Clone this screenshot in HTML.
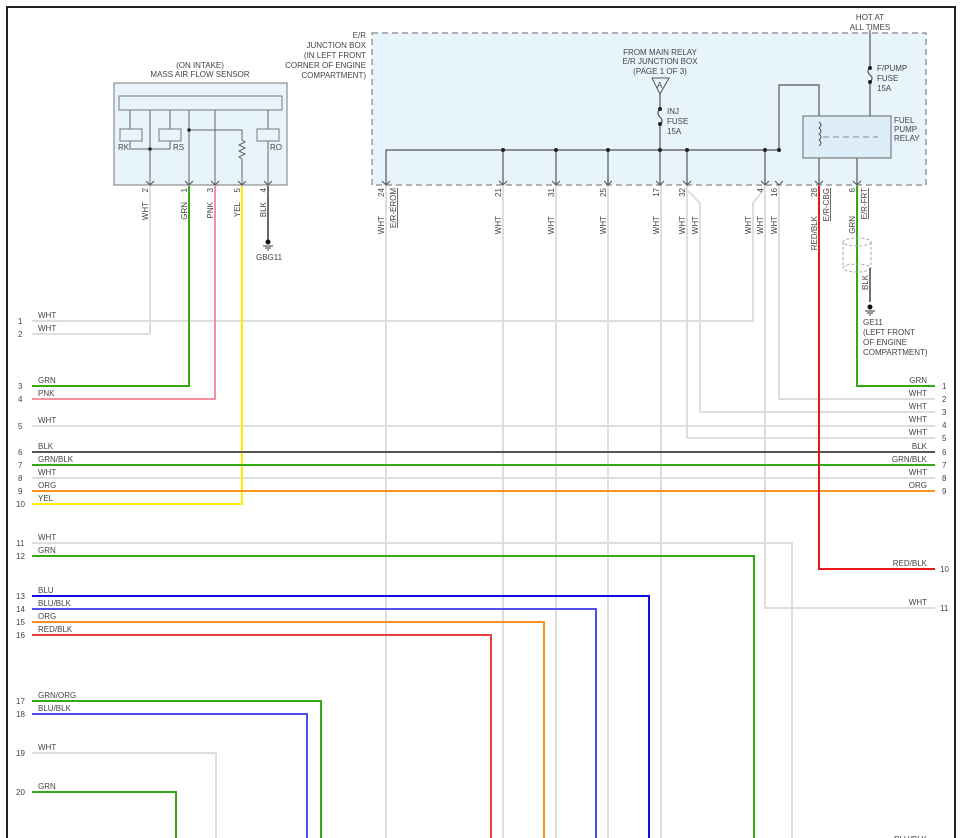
<!DOCTYPE html>
<html><head><meta charset="utf-8"><style>
html,body{margin:0;padding:0;background:#fff;width:962px;height:838px;overflow:hidden}
svg{display:block}
text{font-family:"Liberation Sans",sans-serif;font-size:8px;fill:#444}
</style></head><body>
<svg width="962" height="838" viewBox="0 0 962 838" xmlns="http://www.w3.org/2000/svg">
<!-- border -->
<path d="M7 838 V7 H955 V838" fill="none" stroke="#222" stroke-width="2"/>

<!-- Junction box -->
<rect x="372" y="33" width="554" height="152" fill="#e8f4fc" stroke="#888" stroke-width="1.3" stroke-dasharray="6,4"/>
<g text-anchor="end">
<text x="366" y="38">E/R</text>
<text x="366" y="48">JUNCTION BOX</text>
<text x="366" y="58">(IN LEFT FRONT</text>
<text x="366" y="68">CORNER OF ENGINE</text>
<text x="366" y="78">COMPARTMENT)</text>
</g>
<g text-anchor="middle">
<text x="660" y="55">FROM MAIN RELAY</text>
<text x="660" y="64">E/R JUNCTION BOX</text>
<text x="660" y="74">(PAGE 1 OF 3)</text>
<text x="870" y="20">HOT AT</text>
<text x="870" y="30">ALL TIMES</text>
</g>
<!-- A connector -->
<path d="M652 78 L669 78 L660 94 Z" fill="none" stroke="#555"/>
<text x="657" y="88" font-size="6">A</text>
<g stroke="#555" stroke-width="1.2" fill="none">
<path d="M660 94 V109 M660 124 V185"/>
<path d="M660 109 q-4 4 0 8 q4 4 0 8"/>
<path d="M386 185 V150 H779 V85 H819 V185"/>
<path d="M503 150V185 M556 150V185 M608 150V185 M687 150V185 M765 150V185"/>
<path d="M870 30 V68 M870 82 V125 L886 149"/>
<path d="M870 68 q-4 3 0 7 q4 3 0 7"/>
<path d="M857 148 V185"/>
</g>
<g fill="#222">
<circle cx="660" cy="109" r="2"/><circle cx="660" cy="124" r="2"/>
<circle cx="870" cy="68" r="2"/><circle cx="870" cy="82" r="2"/>
<circle cx="870" cy="125" r="2"/><circle cx="883" cy="148" r="2"/><circle cx="857" cy="148" r="2"/>
<circle cx="503" cy="150" r="2"/><circle cx="556" cy="150" r="2"/><circle cx="608" cy="150" r="2"/>
<circle cx="660" cy="150" r="2"/><circle cx="687" cy="150" r="2"/><circle cx="765" cy="150" r="2"/><circle cx="779" cy="150" r="2"/>
</g>
<text x="667" y="114">INJ</text><text x="667" y="124">FUSE</text><text x="667" y="134">15A</text>
<text x="877" y="71">F/PUMP</text><text x="877" y="81">FUSE</text><text x="877" y="91">15A</text>
<!-- relay -->
<rect x="803" y="116" width="88" height="42" fill="#ddeef8" stroke="#666"/>
<path d="M819 122 q4 3 0 6 q4 3 0 6 q4 3 0 6 q4 3 0 6" fill="none" stroke="#555"/>
<path d="M823 137 H878" stroke="#888" stroke-dasharray="6,4"/>
<text x="894" y="123">FUEL</text><text x="894" y="132">PUMP</text><text x="894" y="141">RELAY</text>

<!-- Sensor -->
<text x="200" y="68" text-anchor="middle">(ON INTAKE)</text>
<text x="200" y="77" text-anchor="middle">MASS AIR FLOW SENSOR</text>
<rect x="114" y="83" width="173" height="102" fill="#e8f4fc" stroke="#777"/>
<rect x="119" y="96" width="163" height="14" fill="#e8f4fc" stroke="#777"/>
<g stroke="#666" fill="none">
<path d="M130 110V129 M150 110V185 M170 110V129 M189 110V185 M215 110V185 M268 110V129 M268 141V185"/>
<path d="M130 141V149 H170 V141"/>
<path d="M189 130 H242 V140 l3 2 -6 3 6 3 -6 3 6 3 -6 3 3 2 V185"/>
</g>
<g fill="#e8f4fc" stroke="#777"><rect x="120" y="129" width="22" height="12"/><rect x="159" y="129" width="22" height="12"/><rect x="257" y="129" width="22" height="12"/></g>
<circle cx="150" cy="149" r="1.8" fill="#222"/><circle cx="189" cy="130" r="1.8" fill="#222"/>
<text x="118" y="150">RK</text><text x="173" y="150">RS</text><text x="270" y="150">RO</text>

<!-- pin arrows -->
<g stroke="#555" fill="none" stroke-width="1">
<path d="M146 181l4 4 4-4 M185 181l4 4 4-4 M211 181l4 4 4-4 M238 181l4 4 4-4 M264 181l4 4 4-4"/>
<path d="M382 181l4 4 4-4 M499 181l4 4 4-4 M552 181l4 4 4-4 M604 181l4 4 4-4 M656 181l4 4 4-4 M683 181l4 4 4-4 M761 181l4 4 4-4 M775 181l4 4 4-4 M815 181l4 4 4-4 M853 181l4 4 4-4"/>
</g>

<!-- wires -->
<g fill="none" stroke-width="2">
<!-- white -->
<g stroke="#dedede">
<path d="M150 186V334H32"/>
<path d="M32 321H753V203L765 188"/>
<path d="M386 186V838 M503 186V838 M556 186V838 M608 186V838 M661 186V838"/>
<path d="M687 186V438H935"/>
<path d="M687 190L700 203V412H935"/>
<path d="M765 186V608H935"/>
<path d="M779 186V399H935"/>
<path d="M32 426H935 M32 478H935"/>
<path d="M32 543H792V838"/>
<path d="M32 753H216V838"/>
</g>
<path d="M189 186V386H32" stroke="#33aa11"/>
<path d="M215 186V399H32" stroke="#f590a0"/>
<path d="M242 186V504H32" stroke="#ffee00"/>
<path d="M268 186V240" stroke="#444" stroke-width="1.6"/>
<path d="M32 452H935" stroke="#555"/>
<path d="M32 465H935" stroke="#33aa11"/>
<path d="M32 491H935" stroke="#f7931e"/>
<path d="M819 186V569H935" stroke="#e81818"/>
<path d="M857 186V386H935" stroke="#33aa11"/>
<path d="M32 556H754V838" stroke="#33aa11"/>
<path d="M32 596H649V838" stroke="#1010e0"/>
<path d="M32 609H596V838" stroke="#5050f0"/>
<path d="M32 622H544V838" stroke="#f7931e"/>
<path d="M32 635H491V838" stroke="#e84040"/>
<path d="M32 701H321V838" stroke="#33aa11"/>
<path d="M32 714H307V838" stroke="#5050f0"/>
<path d="M32 792H176V838" stroke="#33aa11"/>
</g>
<!-- ground symbols -->
<circle cx="268" cy="242" r="2.5" fill="#111"/><path d="M263 246h10M265 248h6M267 250h2" stroke="#333"/>
<text x="256" y="260">GBG11</text>
<ellipse cx="857" cy="242" rx="14" ry="4" fill="none" stroke="#aaa" stroke-dasharray="3,2"/>
<ellipse cx="857" cy="268" rx="14" ry="4" fill="none" stroke="#aaa" stroke-dasharray="3,2"/>
<path d="M843 242V268 M871 242V268" stroke="#aaa" stroke-dasharray="3,2"/>
<path d="M870 268V302" stroke="#444" stroke-width="1.5"/>
<circle cx="870" cy="307" r="2.5" fill="#111"/><path d="M865 311h10M867 313h6M869 315h2" stroke="#333"/>
<text x="863" y="325">GE11</text><text x="863" y="335">(LEFT FRONT</text><text x="863" y="345">OF ENGINE</text><text x="863" y="355">COMPARTMENT)</text>
<text transform="translate(868,290) rotate(-90)">BLK</text>

<!-- rotated pin labels -->
<g text-anchor="end">
<text transform="translate(148,188) rotate(-90)">2</text><text transform="translate(148,202) rotate(-90)">WHT</text>
<text transform="translate(187,188) rotate(-90)">1</text><text transform="translate(187,202) rotate(-90)">GRN</text>
<text transform="translate(213,188) rotate(-90)">3</text><text transform="translate(213,202) rotate(-90)">PNK</text>
<text transform="translate(240,188) rotate(-90)">5</text><text transform="translate(240,202) rotate(-90)">YEL</text>
<text transform="translate(266,188) rotate(-90)">4</text><text transform="translate(266,202) rotate(-90)">BLK</text>

<text transform="translate(384,188) rotate(-90)">24</text><text transform="translate(384,216) rotate(-90)">WHT</text>
<text transform="translate(501,188) rotate(-90)">21</text><text transform="translate(501,216) rotate(-90)">WHT</text>
<text transform="translate(554,188) rotate(-90)">31</text><text transform="translate(554,216) rotate(-90)">WHT</text>
<text transform="translate(606,188) rotate(-90)">25</text><text transform="translate(606,216) rotate(-90)">WHT</text>
<text transform="translate(659,188) rotate(-90)">17</text><text transform="translate(659,216) rotate(-90)">WHT</text>
<text transform="translate(685,188) rotate(-90)">32</text><text transform="translate(685,216) rotate(-90)">WHT</text>
<text transform="translate(698,216) rotate(-90)">WHT</text>
<text transform="translate(751,216) rotate(-90)">WHT</text>
<text transform="translate(763,188) rotate(-90)">4</text><text transform="translate(763,216) rotate(-90)">WHT</text>
<text transform="translate(777,188) rotate(-90)">16</text><text transform="translate(777,216) rotate(-90)">WHT</text>
<text transform="translate(817,188) rotate(-90)">28</text><text transform="translate(817,216) rotate(-90)">RED/BLK</text>
<text transform="translate(855,188) rotate(-90)">6</text><text transform="translate(855,216) rotate(-90)">GRN</text>
<text transform="translate(396,188) rotate(-90)" text-decoration="underline">E/R-EROM</text>
<text transform="translate(829,188) rotate(-90)" text-decoration="underline">E/R-CBG</text>
<text transform="translate(867,188) rotate(-90)" text-decoration="underline">E/R-FRT</text>
</g>

<!-- left row labels -->
<g>
<text x="18" y="324">1</text><text x="38" y="318">WHT</text>
<text x="18" y="337">2</text><text x="38" y="331">WHT</text>
<text x="18" y="389">3</text><text x="38" y="383">GRN</text>
<text x="18" y="402">4</text><text x="38" y="396">PNK</text>
<text x="18" y="429">5</text><text x="38" y="423">WHT</text>
<text x="18" y="455">6</text><text x="38" y="449">BLK</text>
<text x="18" y="468">7</text><text x="38" y="462">GRN/BLK</text>
<text x="18" y="481">8</text><text x="38" y="475">WHT</text>
<text x="18" y="494">9</text><text x="38" y="488">ORG</text>
<text x="16" y="507">10</text><text x="38" y="501">YEL</text>
<text x="16" y="546">11</text><text x="38" y="540">WHT</text>
<text x="16" y="559">12</text><text x="38" y="553">GRN</text>
<text x="16" y="599">13</text><text x="38" y="593">BLU</text>
<text x="16" y="612">14</text><text x="38" y="606">BLU/BLK</text>
<text x="16" y="625">15</text><text x="38" y="619">ORG</text>
<text x="16" y="638">16</text><text x="38" y="632">RED/BLK</text>
<text x="16" y="704">17</text><text x="38" y="698">GRN/ORG</text>
<text x="16" y="717">18</text><text x="38" y="711">BLU/BLK</text>
<text x="16" y="756">19</text><text x="38" y="750">WHT</text>
<text x="16" y="795">20</text><text x="38" y="789">GRN</text>
</g>
<!-- right row labels -->
<g text-anchor="end">
<text x="927" y="383">GRN</text><text x="927" y="396">WHT</text><text x="927" y="409">WHT</text>
<text x="927" y="422">WHT</text><text x="927" y="435">WHT</text><text x="927" y="449">BLK</text>
<text x="927" y="462">GRN/BLK</text><text x="927" y="475">WHT</text><text x="927" y="488">ORG</text>
<text x="927" y="566">RED/BLK</text><text x="927" y="605">WHT</text>
<text x="927" y="842">BLU/BLK</text>
</g>
<g>
<text x="942" y="389">1</text><text x="942" y="402">2</text><text x="942" y="415">3</text>
<text x="942" y="428">4</text><text x="942" y="441">5</text><text x="942" y="455">6</text>
<text x="942" y="468">7</text><text x="942" y="481">8</text><text x="942" y="494">9</text>
<text x="940" y="572">10</text><text x="940" y="611">11</text>
</g>
</svg>
</body></html>
